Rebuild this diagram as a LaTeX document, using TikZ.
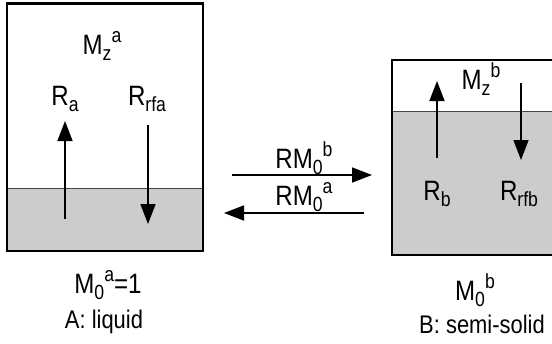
\documentclass[tikz,border=0pt]{standalone}
\usepackage{fontspec}
\setmainfont[FakeStretch=0.86]{Liberation Sans}
\usetikzlibrary{arrows.meta}
\definecolor{fillg}{RGB}{204,204,204}
\definecolor{lineg}{RGB}{70,70,70}
\newcommand\sbs[1]{\raisebox{-6pt}{\fontsize{20.5}{20.5}\selectfont #1}}
\newcommand\sps[1]{\raisebox{11.5pt}{\fontsize{20.5}{20.5}\selectfont #1}}
\begin{document}
\begin{tikzpicture}[x=1pt,y=-1pt,
  lbl/.style={inner sep=0pt, anchor=base, font=\fontsize{28}{28}\selectfont},
  small/.style={inner sep=0pt, anchor=base, font=\fontsize{25.5}{25.5}\selectfont},
  box/.style={line width=2.8pt},
  level/.style={line width=0.9pt, draw=lineg},
  arr/.style={line width=1.6pt, -{Triangle[length=20pt,width=15pt]}}]
\useasboundingbox (0,0) rectangle (552,343);
\clip (0,0) rectangle (552,343);
% left box (A)
\fill[fillg] (7,188) rectangle (203,251);
\draw[level] (7,188) -- (203,188);
\draw[box] (7,3.5) rectangle (203,251);
% right box (B)
\fill[fillg] (392,111) rectangle (570,255);
\draw[level] (392,111) -- (570,111);
\draw[box] (392,60) rectangle (575,255);
% labels
\node[lbl] (mza) at (102,54) {M\sbs{z}\sps{a}};
\node[lbl] (ra) at (65,105) {R\sbs{a}};
\node[lbl] (rrfa) at (147,105) {R\sbs{rfa}};
\node[lbl] (m0a) at (108,293) {M\sbs{0}\sps{a}=1};
\node[small] (liq) at (104,328) {A: liquid};
\node[lbl] (rm0b) at (304,168) {RM\sbs{0}\sps{b}};
\node[lbl] (rm0a) at (304,205) {RM\sbs{0}\sps{a}};
\node[lbl] (mzb) at (481,89) {M\sbs{z}\sps{b}};
\node[lbl] (rb) at (437,200) {R\sbs{b}};
\node[lbl] (rrfb) at (519,200) {R\sbs{rfb}};
\node[lbl] (m0b) at (475,300) {M\sbs{0}\sps{b}};
\node[small] (semi) at (482,333) {B: semi-solid};
% arrow end points
\coordinate (a1s) at (65,219);  \coordinate (a1e) at (65,121);
\coordinate (a2s) at (148,125); \coordinate (a2e) at (148,224);
\coordinate (b1s) at (437,158); \coordinate (b1e) at (437,81);
\coordinate (b2s) at (521,83);  \coordinate (b2e) at (521,160);
\coordinate (m1s) at (232,175); \coordinate (m1e) at (372,175);
\coordinate (m2s) at (364,213); \coordinate (m2e) at (224,213);
\draw[arr] (a1s) -- (a1e);
\draw[arr] (a2s) -- (a2e);
\draw[arr] (b1s) -- (b1e);
\draw[arr] (b2s) -- (b2e);
\draw[arr] (m1s) -- (m1e);
\draw[arr] (m2s) -- (m2e);
\end{tikzpicture}
\end{document}
